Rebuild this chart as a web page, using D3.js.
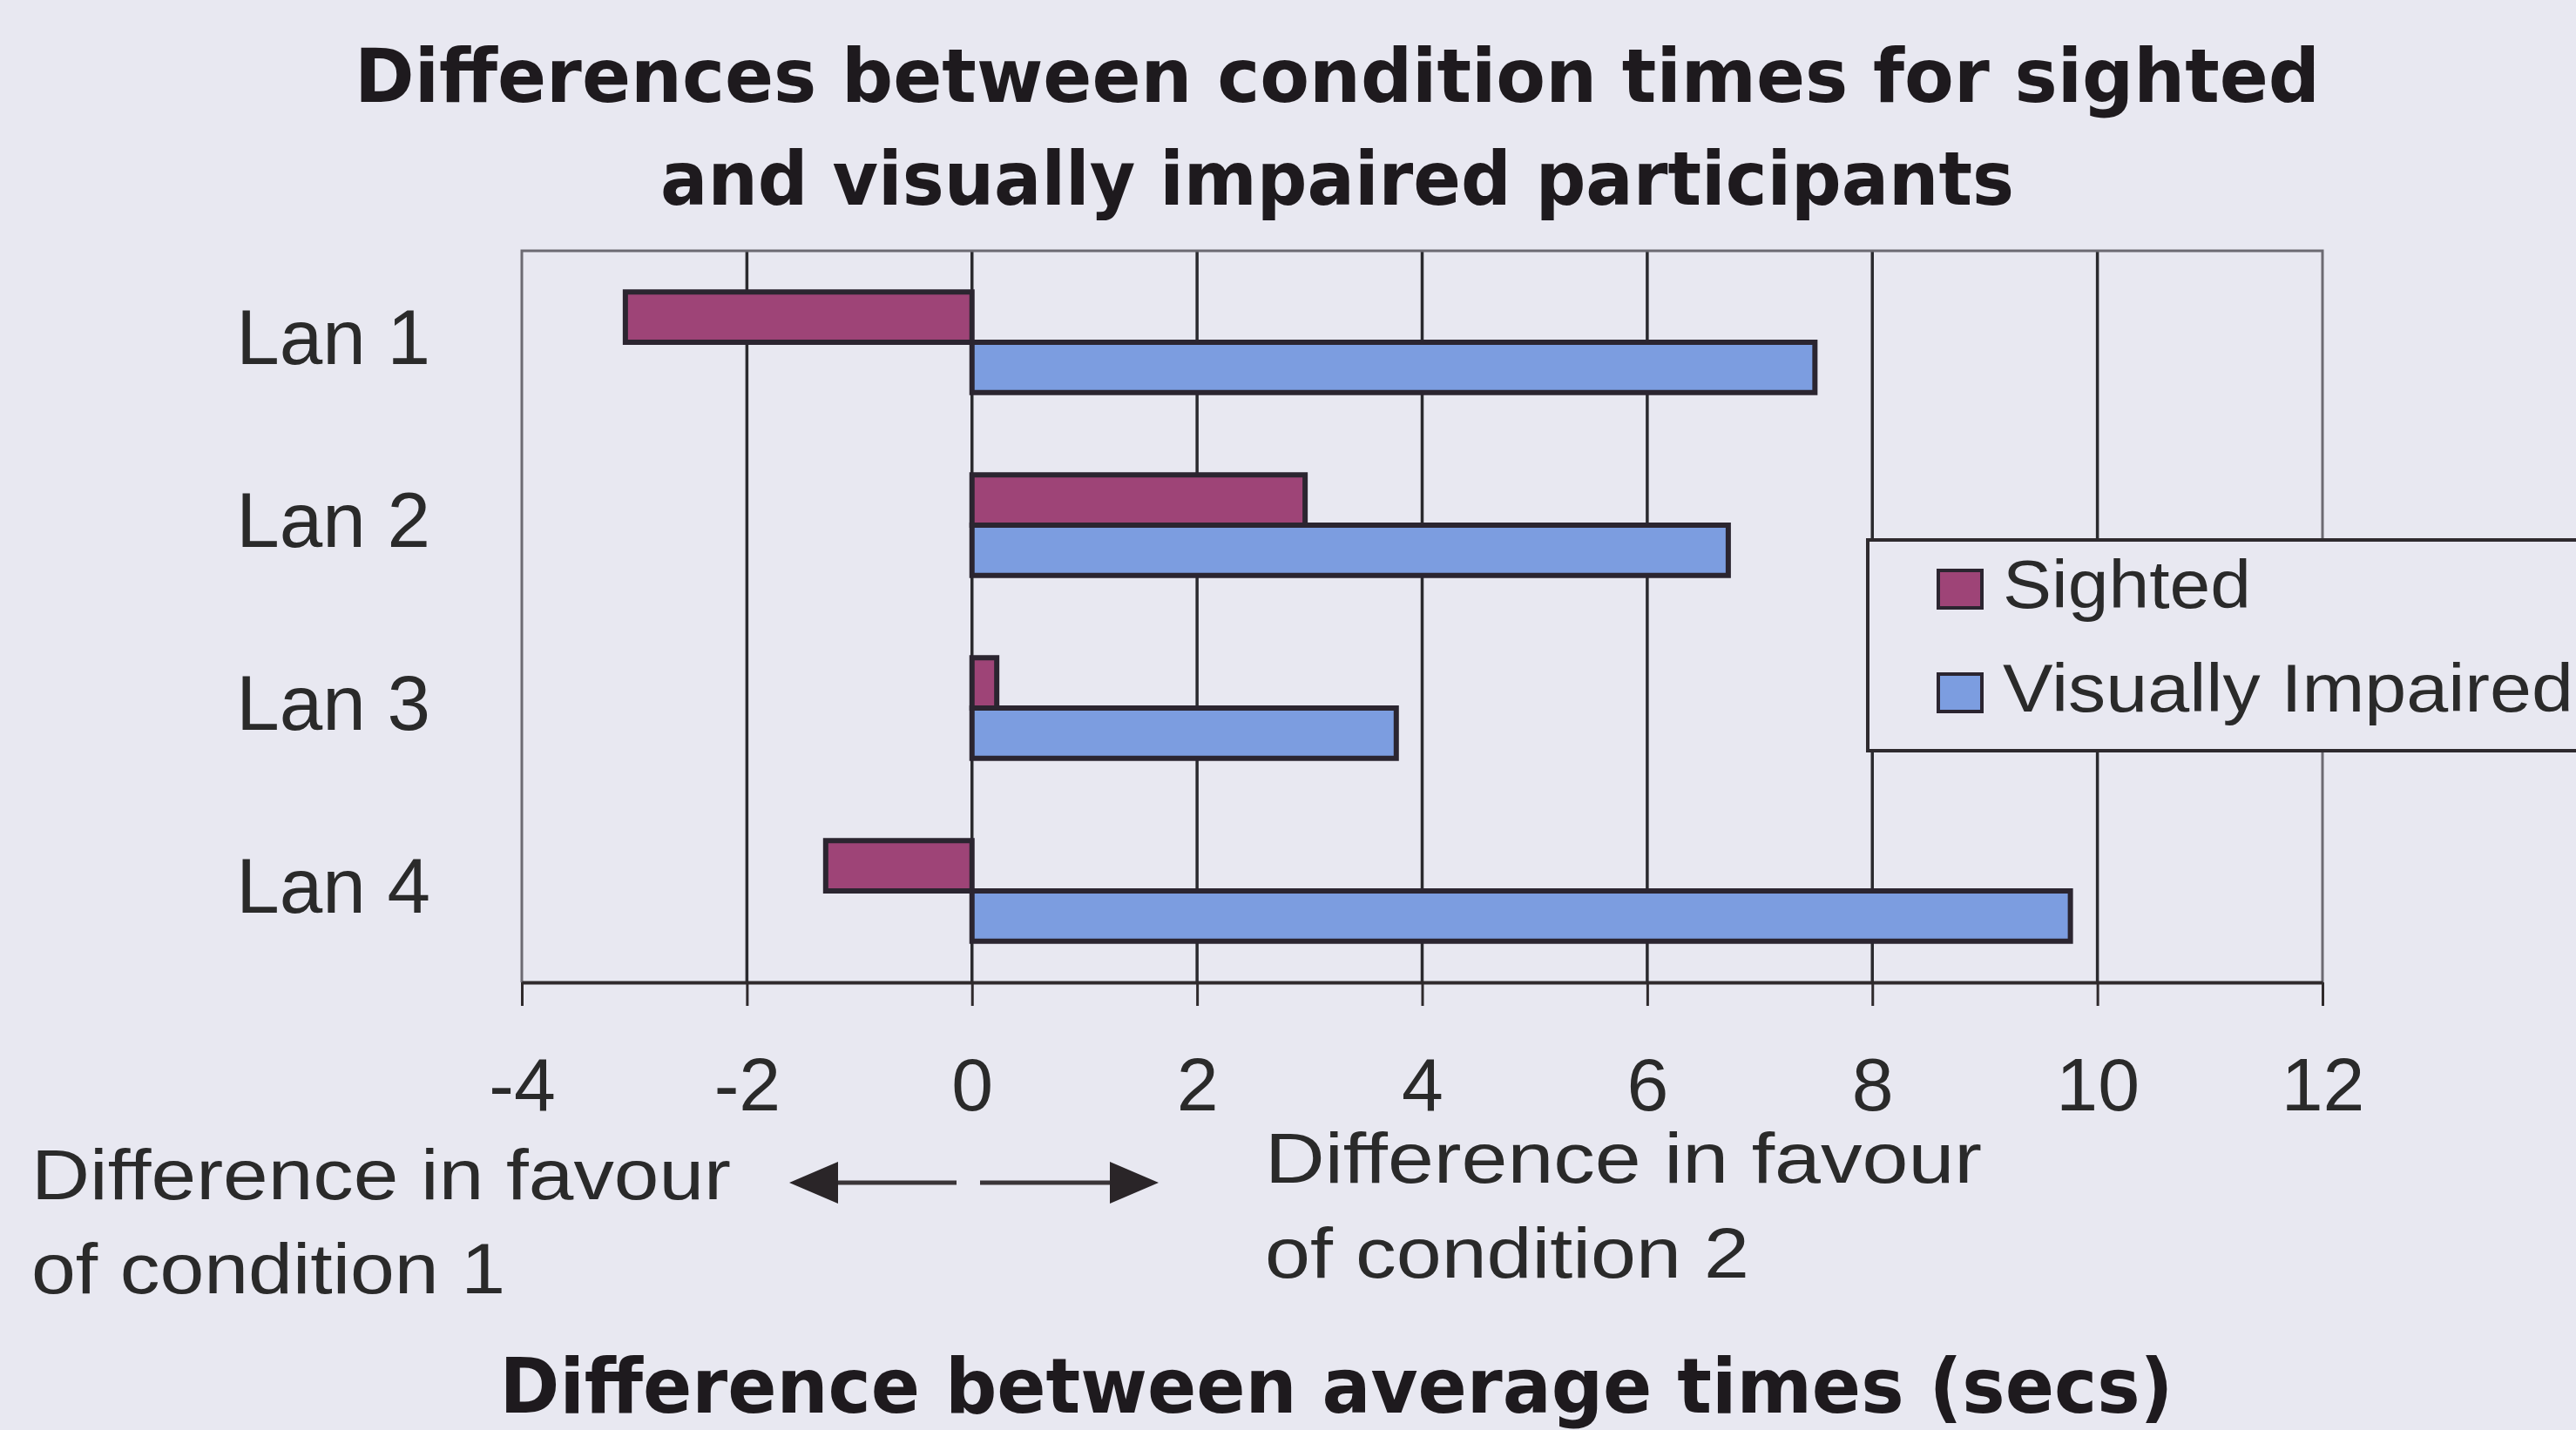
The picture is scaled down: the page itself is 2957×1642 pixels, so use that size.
<!DOCTYPE html>
<html>
<head>
<meta charset="utf-8">
<script src="https://cdn.jsdelivr.net/npm/d3@7"></script>
<style>
  html, body { margin: 0; padding: 0; background: #e8e8f1; }
  svg { display: block; }
</style>
</head>
<body>
<svg id="chart" width="2957" height="1642"></svg>
<script>
// ---- Data ----
const categories = ["Lan 1", "Lan 2", "Lan 3", "Lan 4"];
const seriesNames = ["Sighted", "Visually Impaired"];
const sighted = [-3.08, 2.96, 0.22, -1.30];
const visuallyImpaired = [7.49, 6.72, 3.77, 9.76];
const xTicks = [-4, -2, 0, 2, 4, 6, 8, 10, 12];
const titleLines = ["Differences between condition times for sighted", "and visually impaired participants"];
const xAxisTitle = "Difference between average times (secs)";
const noteLeft = ["Difference in favour", "of condition 1"];
const noteRight = ["Difference in favour", "of condition 2"];

// ---- Setup ----
const bg = "#e8e8f1";
const colors = { "Sighted": "#9e4477", "Visually Impaired": "#7c9de0" };
const ink = "#2b2530";
const svg = d3.select("#chart");
svg.append("rect").attr("width", 2957).attr("height", 1642).attr("fill", bg);

const plot = { left: 599, right: 2666, top: 288, bottom: 1128 };

const x = d3.scaleLinear().domain([-4, 12]).range([plot.left, plot.right]);
const y = d3.scaleBand().domain(categories).range([plot.top, plot.bottom])
  .paddingInner(0.45).paddingOuter(0.225);
const ySub = d3.scaleBand().domain(seriesNames).range([0, y.bandwidth()]);

const rows = categories.map((c, i) => ({
  cat: c,
  values: [
    { key: "Sighted", value: sighted[i] },
    { key: "Visually Impaired", value: visuallyImpaired[i] }
  ]
}));

// ---- Gridlines & borders ----
const g = svg.append("g");
g.selectAll("line.grid").data(xTicks.filter(t => t > -4 && t < 12)).join("line")
  .attr("class", "grid")
  .attr("x1", d => x(d)).attr("x2", d => x(d))
  .attr("y1", plot.top).attr("y2", plot.bottom)
  .attr("stroke", "#2a2a2e").attr("stroke-width", 3.5);
g.append("path")
  .attr("d", `M${x(-4)},${plot.bottom}V${plot.top}H${x(12)}V${plot.bottom}`)
  .attr("fill", "none").attr("stroke", "#6c6a72").attr("stroke-width", 3);

// ---- Bars ----
const groups = svg.append("g").selectAll("g.cat").data(rows).join("g")
  .attr("transform", d => `translate(0,${y(d.cat)})`);
groups.selectAll("rect").data(d => d.values).join("rect")
  .attr("x", d => x(Math.min(0, d.value)))
  .attr("width", d => Math.abs(x(d.value) - x(0)))
  .attr("y", d => ySub(d.key))
  .attr("height", ySub.bandwidth())
  .attr("fill", d => colors[d.key])
  .attr("stroke", ink).attr("stroke-width", 6);

// ---- X axis ----
const xAxis = d3.axisBottom(x).tickValues(xTicks).tickFormat(d => String(d))
  .tickSizeInner(27).tickSizeOuter(0);
const xg = svg.append("g").attr("transform", `translate(0,${plot.bottom})`).call(xAxis);
xg.select(".domain").attr("stroke", "#2f2a2c").attr("stroke-width", 4);
xg.selectAll(".tick line").attr("stroke", "#2f2a2c").attr("stroke-width", 3);
xg.selectAll(".tick text")
  .attr("y", 147).attr("dy", 0)
  .attr("font-family", "Liberation Sans, Arial, sans-serif")
  .attr("font-size", 86).attr("fill", "#2a2a2a");

// ---- Y axis (category labels) ----
const yAxis = d3.axisLeft(y).tickSize(0).tickPadding(105);
const yg = svg.append("g").attr("transform", `translate(${plot.left},0)`).call(yAxis);
yg.select(".domain").remove();
yg.selectAll(".tick text")
  .attr("dy", "0.28em")
  .attr("font-family", "Liberation Sans, Arial, sans-serif")
  .attr("font-size", 89).attr("fill", "#2a2a2a");

// ---- Legend ----
const lg = svg.append("g");
lg.append("rect").attr("x", 2144).attr("y", 620).attr("width", 900).attr("height", 242)
  .attr("fill", bg).attr("stroke", "#2e2a2e").attr("stroke-width", 4);
const legendY = [655, 774];
const legendW = [285, 655];
seriesNames.forEach((s, i) => {
  lg.append("rect").attr("x", 2225).attr("y", legendY[i]).attr("width", 50).attr("height", 43)
    .attr("fill", colors[s]).attr("stroke", ink).attr("stroke-width", 4);
  lg.append("text").attr("x", 2299).attr("y", legendY[i] + 43)
    .attr("font-family", "Liberation Sans, Arial, sans-serif").attr("font-size", 77)
    .attr("textLength", legendW[i]).attr("lengthAdjust", "spacingAndGlyphs")
    .attr("fill", "#2a2a2a").text(s);
});

// ---- Title ----
const titleFont = "DejaVu Sans, Verdana, sans-serif";
const tw = [2256, 1554];
const tb = [117, 235];
titleLines.forEach((t, i) => {
  svg.append("text").attr("x", 1535).attr("y", tb[i]).attr("text-anchor", "middle")
    .attr("font-family", titleFont).attr("font-weight", "bold").attr("font-size", 86)
    .attr("textLength", tw[i]).attr("lengthAdjust", "spacingAndGlyphs")
    .attr("fill", "#1e1a1e").text(t);
});

// ---- X axis title ----
svg.append("text").attr("x", 1534).attr("y", 1622).attr("text-anchor", "middle")
  .attr("font-family", titleFont).attr("font-weight", "bold").attr("font-size", 88)
  .attr("textLength", 1921).attr("lengthAdjust", "spacingAndGlyphs")
  .attr("fill", "#1e1a1e").text(xAxisTitle);

// ---- Notes ----
const noteFont = "Liberation Sans, Arial, sans-serif";
const notes = [
  { x: 36, y: 1377, w: 803, t: noteLeft[0] },
  { x: 36, y: 1485, w: 544, t: noteLeft[1] },
  { x: 1452, y: 1358, w: 823, t: noteRight[0] },
  { x: 1452, y: 1467, w: 556, t: noteRight[1] }
];
notes.forEach(n => {
  svg.append("text").attr("x", n.x).attr("y", n.y)
    .attr("font-family", noteFont).attr("font-size", 82)
    .attr("textLength", n.w).attr("lengthAdjust", "spacingAndGlyphs")
    .attr("fill", "#2a2a2a").text(n.t);
});

// ---- Arrows ----
const arrowY = 1358;
const ag = svg.append("g").attr("fill", "#2a2528").attr("stroke", "#3a3538");
ag.append("line").attr("x1", 1098).attr("x2", 950).attr("y1", arrowY).attr("y2", arrowY).attr("stroke-width", 5);
ag.append("path").attr("d", `M906,${arrowY}L962,${arrowY - 24}L962,${arrowY + 24}Z`).attr("stroke", "none");
ag.append("line").attr("x1", 1125).attr("x2", 1290).attr("y1", arrowY).attr("y2", arrowY).attr("stroke-width", 5);
ag.append("path").attr("d", `M1330,${arrowY}L1274,${arrowY - 24}L1274,${arrowY + 24}Z`).attr("stroke", "none");
</script>
</body>
</html>
